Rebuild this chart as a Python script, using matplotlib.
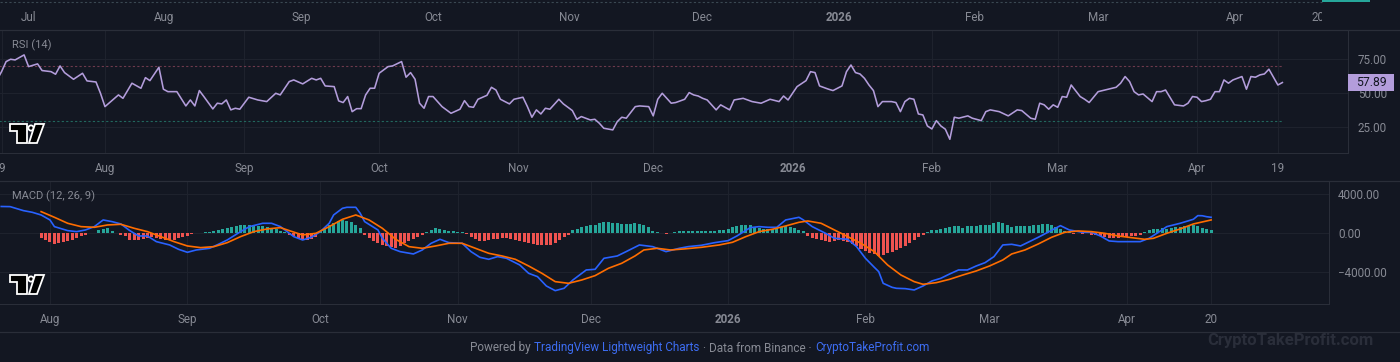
import numpy as np
import pandas as pd
import matplotlib
matplotlib.use("Agg")
import matplotlib.pyplot as plt
import matplotlib.dates as mdates
from matplotlib.patches import Polygon, Circle, Rectangle
from matplotlib.lines import Line2D
from matplotlib.transforms import Affine2D, blended_transform_factory
from matplotlib.offsetbox import TextArea, HPacker, AnchoredOffsetbox
from matplotlib.ticker import FuncFormatter

plt.rcParams['font.family'] = ['Roboto', 'DejaVu Sans']

# ---- data (days counted from 1 Aug 2025) ----
start = pd.Timestamp('2025-08-01')

rsi_days = [-24, -23, -22, -21, -20, -18, -17, -15, -14, -12, -11, -10, -9, -7, -5, -4, -2, -1,
            0, 2, 3, 4, 6, 8, 9, 10, 12, 13, 14, 16, 18, 19, 20, 21, 22, 24, 25, 26, 27, 28, 29, 30,
            32, 34, 36, 38, 39, 41, 42, 44, 46, 47, 48, 49, 51, 52, 53, 54, 55, 56, 57, 58, 59, 60,
            61, 63, 64, 66, 67, 68, 69, 70, 71, 72, 73, 75, 77, 79, 80, 81, 82, 83, 85, 86, 87, 88,
            90, 91, 93, 94, 95, 96, 97, 98, 99, 101, 102, 104, 105, 106, 108, 109, 110, 111, 113,
            114, 115, 116, 118, 119, 121, 122, 123, 124, 126, 127, 129, 130, 131, 132, 133, 134,
            136, 137, 139, 140, 142, 144, 146, 148, 150, 151, 152, 154, 156, 157, 158, 159, 161,
            162, 164, 165, 166, 167, 168, 169, 170, 171, 172, 173, 175, 176, 177, 178, 179, 180,
            181, 182, 183, 184, 185, 186, 187, 188, 189, 190, 192, 193, 195, 196, 197, 199, 201,
            203, 204, 206, 207, 208, 209, 210, 211, 212, 213, 214, 215, 217, 218, 219, 221, 222,
            225, 226, 227, 228, 229, 230, 231, 233, 234, 235, 236, 238, 240, 241, 242, 243, 244,
            245, 246, 247, 248, 249, 250, 251, 253, 254, 255, 256, 257, 258, 259, 261, 262]
rsi_values = [60, 66, 73.3, 75, 74.5, 78.2, 69.6, 71.6, 66.7, 65.9, 64, 70.1, 65.2, 60.3, 64.7, 59.1,
              58.3, 50, 40.2, 46, 48.8, 46.3, 57.4, 53.7, 61.5, 59.3, 69.1, 53, 51.2, 51.2, 40.7,
              45.1, 40.7, 52, 47.6, 38.5, 42.7, 42.2, 45.1, 37.8, 39, 38.3, 47.1, 45.1, 43.9, 50,
              48.8, 58.6, 59.8, 56.9, 61, 59.8, 61, 55.4, 54.9, 44.4, 43.2, 47.6, 36.5, 38.7, 38.7,
              48.8, 53.7, 53.7, 64.7, 69.6, 70.1, 73.3, 61.8, 65.2, 60.3, 42.7, 39, 47.6, 47.6,
              40.2, 35.3, 38.3, 44.6, 40.2, 39.7, 45.6, 48.5, 54.4, 52.4, 45.6, 42.2, 45.6, 47.1,
              40.2, 32.4, 37.8, 34.8, 39, 38.3, 45.6, 42.2, 37.3, 30.9, 32.9, 30.4, 30.9, 28, 24.3,
              23.1, 29.2, 32.4, 31.7, 40.2, 40.7, 40.2, 33.4, 45.6, 50, 42.7, 43.2, 45.6, 50.5, 48.8,
              48, 46.3, 45.1, 37.8, 41.5, 37.8, 45.1, 46.3, 43.9, 42.7, 45.6, 43.9, 48, 45.1, 54.9,
              59.3, 65.9, 65.2, 55.4, 53, 52, 55.4, 65.9, 70.8, 65.2, 64.2, 61, 56.1, 52, 40.2,
              43.9, 43.9, 43.2, 36.5, 43.9, 46.3, 45.6, 34.8, 34.1, 26, 23.8, 29.9, 26, 23.6, 16.2,
              32.4, 31.7, 33.4, 31.7, 29.9, 36.5, 37.8, 36.5, 33.4, 37.8, 37.3, 31.7, 30.9, 42.7,
              41.5, 38.3, 41.5, 39.7, 47.6, 47.1, 56.1, 47.6, 45.6, 43.2, 51.2, 52, 54.4, 57.4,
              62.3, 58.6, 51.2, 48.8, 49.5, 43.9, 51.2, 51.2, 52.4, 41.5, 40.7, 42.7, 47.6, 47.1,
              43.9, 44.6, 45.6, 51.2, 51.2, 59.8, 57.4, 59.8, 62.3, 53, 62.3, 61.8, 63.5, 64.2,
              67.7, 56.1, 57.89]

macd_days = [-11, -9, -6, -4, -2, 0, 1, 4, 6, 8, 10, 12, 14, 16, 18, 20, 22, 24, 27, 29, 31, 33,
             36, 38, 40, 43, 45, 48, 50, 52, 55, 57, 59, 61, 63, 64, 66, 67, 69, 70, 71, 74, 75,
             77, 79, 82, 84, 86, 88, 90, 93, 95, 97, 99, 101, 103, 106, 108, 110, 112, 114, 116,
             118, 120, 121, 123, 125, 128, 130, 133, 136, 139, 142, 144, 147, 150, 153, 155, 158,
             160, 162, 164, 166, 169, 170, 172, 175, 177, 180, 182, 184, 186, 187, 188, 190, 191,
             193, 195, 197, 199, 201, 203, 205, 207, 209, 211, 213, 215, 217, 219, 221, 223, 225,
             228, 230, 233, 235, 237, 239, 241, 243, 246, 248, 250, 252, 255, 258, 259, 260, 261,
             262]
macd_values = [2750, 2735, 2325, 2154, 1880, 1368, 684, 274, 171, 342, 684, 1368, 1197, 957, 274,
               -274, -274, -855, -1197, -1641, -1949, -1710, -1539, -1128, -684, 171, 684, 1026,
               1026, 684, -342, -684, -410, 171, 1026, 1880, 2564, 2667, 2667, 2051, 1197, 342,
               -513, -1539, -1880, -2120, -1710, -1026, -615, -957, -1026, -1880, -2462, -2667,
               -2393, -2564, -3248, -4103, -4445, -5402, -5881, -5641, -4787, -4103, -3761, -3692,
               -2564, -2325, -1880, -1197, -1368, -1880, -1539, -1368, -1230, -957, -752, -274,
               581, 684, 615, 615, 1368, 1641, 1368, 684, 0, -513, -615, -1368, -2564, -3487,
               -3932, -5128, -5539, -5641, -5676, -5812, -5402, -4889, -4616, -4171, -3761, -3761,
               -3351, -3009, -2393, -1197, -1128, -1299, -855, -410, 68, 786, 342, 103, 103, -274,
               -786, -855, -855, -855, -513, 68, 684, 1026, 1436, 1812, 1800, 1700, 1641]

signal_days = [-2, 1, 4, 7, 10, 13, 16, 19, 22, 25, 28, 31, 34, 37, 40, 43, 46, 49, 52, 54, 57,
               60, 63, 66, 69, 72, 75, 78, 81, 84, 87, 90, 93, 96, 99, 102, 105, 108, 111, 114,
               117, 120, 123, 126, 129, 132, 134, 137, 140, 143, 147, 151, 154, 157, 160, 163, 166,
               169, 171, 174, 177, 180, 183, 186, 189, 192, 195, 197, 200, 203, 206, 209, 212, 215,
               217, 220, 223, 226, 229, 232, 235, 238, 241, 244, 247, 249, 252, 255, 258, 262]
signal_values = [2222, 1641, 1026, 684, 615, 855, 923, 513, 171, -342, -855, -1299, -1470, -1368,
                 -957, -342, 171, 444, 581, 274, -171, 0, 684, 1436, 1880, 1368, 513, -615, -1368,
                 -1539, -1299, -1026, -1026, -1539, -2051, -2325, -2667, -3351, -4103, -4958,
                 -5128, -4787, -4342, -3590, -3077, -2325, -1710, -1539, -1710, -1607, -1436,
                 -1197, -923, -342, 171, 410, 752, 1128, 1265, 1026, 342, -342, -1026, -1880,
                 -3248, -4274, -4958, -5231, -5060, -4718, -4274, -3863, -3351, -2735, -2120,
                 -1710, -1094, -410, 103, 239, 171, 0, -274, -444, -615, -513, 0, 444, 957, 1368]

hist_first_day = -2
hist_values = [-440, -720, -890, -1130, -1000, -890, -760, -650, -440, -280, -170,
               50, 80, 310, 480, 550, 200, 50,
               -200, -250, -650, -720, -720, -550, -450, -400, -450, -550, -650, -700, -650, -520,
               -380, -250, -120,
               30, 60, 100, 170, 250, 340, 450, 550, 650, 720, 820, 860, 850, 820, 780, 700, 620,
               520, 400, 270, 120,
               -150, -300, -450, -600, -680, -600, -350,
               200, 500, 800, 1050, 1250, 1350, 1300, 1200, 900, 500,
               -200, -500, -750, -1000, -1200, -1350, -1450, -1500, -1300, -1000, -800, -600,
               -400, -200,
               150, 350, 500, 480, 380, 280, 200, 150, 130,
               -100, -400, -600, -750, -800, -700, -600, -550, -500, -450, -600, -700, -800, -900,
               -1000, -1050, -1150, -1250, -1250, -1150, -1000, -700, -400, -150,
               300, 450, 600, 700, 800, 900, 1050, 1150, 1200, 1100, 1050, 1000, 950, 1000, 1050,
               1000, 850, 600, 250, 150, 80, -60, 60, 150, 200, 220, 240, 240, 240,
               240, 240, 260, 280, 300, 340, 450, 600, 700, 850, 900, 800, 650, 550, 450, 400, 450,
               550, 650, 700, 600, 500, 350, 200,
               -300, -500, -600, -700, -800, -900, -800, -700, -750, -900, -1100, -1350, -1600,
               -1800, -2000, -2150, -2300, -2250, -2050, -1900, -1750, -1550, -1300, -1000, -700,
               -400, -200,
               150, 300, 380, 450, 550, 650, 700, 700, 550, 700, 750, 750, 800, 850, 900, 1050,
               1150, 1050, 800, 650, 700, 750, 750, 750, 800, 850, 950, 1000, 850, 600, 400, 250,
               100, -100, 50, -100, 80, -150, -200, -300, -400, -450, -500, -450, -400, -350, -300,
               -250, -150,
               150, 350, 400, 450, 500, 450, 550, 600, 650, 700, 750, 850, 750, 560, 390, 340]

top_tick_dates = ['2025-07-01', '2025-08-01', '2025-09-01', '2025-10-01', '2025-11-01', '2025-12-01',
                  '2026-01-01', '2026-02-01', '2026-03-01', '2026-04-01', '2026-04-20']
top_tick_labels = ['Jul', 'Aug', 'Sep', 'Oct', 'Nov', 'Dec', '2026', 'Feb', 'Mar', 'Apr', '20']
rsi_tick_dates = ['2025-07-09', '2025-08-01', '2025-09-01', '2025-10-01', '2025-11-01', '2025-12-01',
                  '2026-01-01', '2026-02-01', '2026-03-01', '2026-04-01', '2026-04-19']
rsi_tick_labels = ['9', 'Aug', 'Sep', 'Oct', 'Nov', 'Dec', '2026', 'Feb', 'Mar', 'Apr', '19']
macd_tick_dates = ['2025-08-01', '2025-09-01', '2025-10-01', '2025-11-01', '2025-12-01',
                   '2026-01-01', '2026-02-01', '2026-03-01', '2026-04-01', '2026-04-20']
macd_tick_labels = ['Aug', 'Sep', 'Oct', 'Nov', 'Dec', '2026', 'Feb', 'Mar', 'Apr', '20']

# ---- style ----
BG = '#131722'
GRID = '#1e222d'
BORDER = '#2a2e39'
TXT = '#878a94'
PURPLE = '#b39ddb'
BLUE = '#2962ff'
ORANGE = '#ff6d00'
TEAL = '#26a69a'
RED = '#ef5350'


def day_num(days):
    return mdates.date2num(start + pd.to_timedelta(np.asarray(days), unit='D'))


def date_num(strings):
    return mdates.date2num(pd.to_datetime(strings))


W, H = 1400, 362
fig = plt.figure(figsize=(W / 100, H / 100), dpi=100, facecolor=BG)
px = Affine2D().scale(1 / W, -1 / H).translate(0, 1) + fig.transFigure


def add_px_axes(left, top, width, height):
    ax = fig.add_axes([left / W, 1 - (top + height) / H, width / W, height / H])
    ax.set_facecolor(BG)
    for s in ax.spines.values():
        s.set_visible(False)
    return ax


def setup_time_axis(ax, ticks, labels, pad):
    ax.set_xticks(date_num(ticks))
    ax.set_xticklabels(labels)
    ax.tick_params(axis='x', length=0, pad=pad, labelsize=8.4, labelcolor=TXT)
    for lab in ax.get_xticklabels():
        if lab.get_text() == '2026':
            lab.set_fontweight('bold')


def tv_logo(x0, y0):
    t = Polygon([(x0, y0), (x0 + 17, y0), (x0 + 17, y0 + 19), (x0 + 7, y0 + 19),
                 (x0 + 7, y0 + 7), (x0, y0 + 7)], closed=True, transform=px,
                fc='black', ec='white', lw=1.3)
    dot = Circle((x0 + 21, y0 + 4), 2.6, transform=px, fc='black', ec='white', lw=1.3)
    sl = Polygon([(x0 + 25, y0), (x0 + 34, y0), (x0 + 27, y0 + 19), (x0 + 19, y0 + 19)],
                 closed=True, transform=px, fc='black', ec='white', lw=1.3)
    for p in (t, dot, sl):
        p.set_zorder(10)
        fig.add_artist(p)


# ---- top strip (time scale of the price pane above) ----
ax_top = add_px_axes(0, 0, 1322, 3)
ax_top.set_yticks([])
ax_top.set_xlim(day_num([-37.36, 262.8]))
setup_time_axis(ax_top, top_tick_dates, top_tick_labels, 6)
fig.add_artist(Line2D([0, 1322], [1.5, 1.5], transform=px, color='#3a4852', lw=0.8, ls=(0, (2, 2))))
fig.add_artist(Rectangle((1322, 3), 78, 27, transform=px, fc=BG, ec='none', zorder=5))
fig.add_artist(Rectangle((1322, 0), 48, 2.2, transform=px, fc=TEAL, ec='none', zorder=6))

# ---- RSI pane ----
ax_rsi = add_px_axes(0, 30, 1348, 123.3)
rsi_x = day_num(rsi_days)
ax_rsi.plot(rsi_x, rsi_values, color=PURPLE, lw=1.15, zorder=3)
ax_rsi.hlines([70], rsi_x[0], rsi_x[-1], colors='#6e3a4c', lw=0.8, linestyles=(0, (2, 2)), zorder=2)
ax_rsi.hlines([30], rsi_x[0], rsi_x[-1], colors='#22675d', lw=0.8, linestyles=(0, (2, 2)), zorder=2)
ax_rsi.set_xlim(day_num([-23.36, 276.6]))
ax_rsi.set_ylim(5.9, 96.5)
ax_rsi.set_yticks([25, 50, 75])
ax_rsi.yaxis.tick_right()
ax_rsi.yaxis.set_major_formatter(FuncFormatter(lambda v, p: f'{v:.2f}'))
ax_rsi.tick_params(axis='y', length=0, pad=7, labelsize=8.4, labelcolor=TXT)
setup_time_axis(ax_rsi, rsi_tick_dates, rsi_tick_labels, 6.3)
ax_rsi.grid(True, color=GRID, lw=0.75)
ax_rsi.set_axisbelow(True)
for side in ('right', 'bottom'):
    ax_rsi.spines[side].set_visible(True)
    ax_rsi.spines[side].set_color(BORDER)
    ax_rsi.spines[side].set_linewidth(0.75)
ax_rsi.text(12 / 1348, 1 - 15 / 123.3, 'RSI (14)', transform=ax_rsi.transAxes,
            ha='left', va='center', fontsize=8, color=TXT)
mix = blended_transform_factory(ax_rsi.transAxes, ax_rsi.transData)
last = rsi_values[-1]
half = 8.3 * (96.5 - 5.9) / 123.3
ax_rsi.add_patch(Rectangle((1.0, last - half), 46 / 1348, 2 * half, transform=mix,
                           fc=PURPLE, ec='none', clip_on=False, zorder=6))
ax_rsi.text(1.0 + 23 / 1348, last, f'{last:.2f}', transform=mix, ha='center', va='center',
            fontsize=8.8, color=BG, zorder=7, clip_on=False)

# ---- MACD pane ----
ax_macd = add_px_axes(0, 182, 1329, 122.3)
hist_x = day_num(np.arange(hist_first_day, hist_first_day + len(hist_values)))
hist_arr = np.array(hist_values)
ax_macd.bar(hist_x, hist_arr, width=0.68, color=np.where(hist_arr >= 0, TEAL, RED), zorder=2)
ax_macd.plot(day_num(macd_days), macd_values, color=BLUE, lw=1.2, zorder=3)
ax_macd.plot(day_num(signal_days), signal_values, color=ORANGE, lw=1.2, zorder=4)
ax_macd.set_xlim(day_num([-11.28, 288.6]))
ax_macd.set_ylim(-7282, 5261)
ax_macd.set_yticks([-4000, 0, 4000])
ax_macd.yaxis.tick_right()
ax_macd.yaxis.set_major_formatter(FuncFormatter(lambda v, p: f'{v:.2f}'.replace('-', '\u2212')))
ax_macd.tick_params(axis='y', length=0, pad=6.5, labelsize=8.4, labelcolor=TXT)
setup_time_axis(ax_macd, macd_tick_dates, macd_tick_labels, 6.3)
ax_macd.grid(True, color=GRID, lw=0.75)
ax_macd.set_axisbelow(True)
for side in ('right', 'bottom'):
    ax_macd.spines[side].set_visible(True)
    ax_macd.spines[side].set_color(BORDER)
    ax_macd.spines[side].set_linewidth(0.75)
ax_macd.text(12 / 1329, 1 - 14.5 / 122.3, 'MACD (12, 26, 9)', transform=ax_macd.transAxes,
             ha='left', va='center', fontsize=8, color=TXT)

# ---- separators, logos, footer ----
for y in (30, 181, 332):
    fig.add_artist(Line2D([0, W], [y, y], transform=px, color=BORDER, lw=0.9, zorder=8))
tv_logo(10, 124)
tv_logo(10, 275)

pieces = [('Powered by', TXT), ('TradingView Lightweight Charts', '#3d6df2'),
          ('\u00b7 Data from Binance \u00b7', TXT), ('CryptoTakeProfit.com', '#3d6df2')]
boxes = [TextArea(t, textprops=dict(color=c, fontsize=8.5)) for t, c in pieces]
pack = HPacker(children=boxes, align='baseline', pad=0, sep=2.5)
fig.add_artist(AnchoredOffsetbox(loc='center', child=pack, pad=0, borderpad=0, frameon=False,
                                 bbox_to_anchor=(0.5, 1 - 348 / H),
                                 bbox_transform=fig.transFigure))
fig.text(1290.5 / W, 1 - 341 / H, 'CryptoTakeProfit.com', ha='center', va='center',
         fontsize=12, fontweight='bold', color='#2a2e3a')

fig.savefig('out.png', dpi=100, facecolor=BG)
